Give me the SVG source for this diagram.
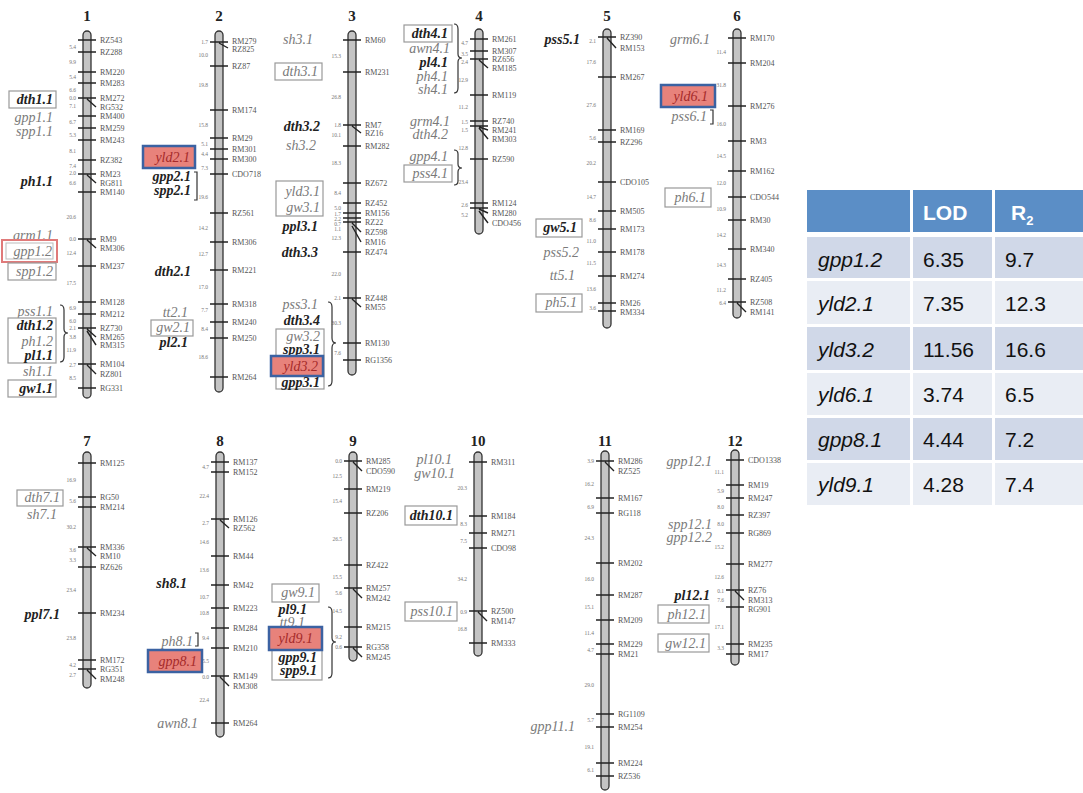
<svg xmlns="http://www.w3.org/2000/svg" width="1083" height="793" viewBox="0 0 1083 793">
<style>
.chr{fill:#c4c4c4;stroke:#333;stroke-width:1.3}
.tk{fill:none;stroke:#222;stroke-width:1.4}
.mk{font-family:"Liberation Serif",serif;font-size:8px;fill:#555}
.ds{font-family:"Liberation Serif",serif;font-size:5.5px;fill:#777;text-anchor:end}
.cn{font-family:"Liberation Serif",serif;font-size:15px;font-weight:bold;fill:#222;text-anchor:middle}
.q{font-family:"Liberation Serif",serif;font-size:14px;font-style:italic;fill:#7a7a7a;text-anchor:end}
.qb{font-family:"Liberation Serif",serif;font-size:14px;font-style:italic;font-weight:bold;fill:#222;text-anchor:end}
.rtx{font-family:"Liberation Serif",serif;font-size:14px;font-style:italic;fill:#a52a2a;text-anchor:end}
.bx{fill:#fff;stroke:#999;stroke-width:1.2}
.rb{fill:#e8827b;stroke:#3b62a2;stroke-width:2.5}
.br{fill:none;stroke:#333;stroke-width:1.2}
.th{font-family:"Liberation Sans",sans-serif;font-size:21px;font-weight:bold;fill:#fff}
.td{font-family:"Liberation Sans",sans-serif;font-size:21px;fill:#111}
.tdi{font-family:"Liberation Sans",sans-serif;font-size:21px;font-style:italic;fill:#111}
</style>
<rect width="1083" height="793" fill="#fff"/>

<!-- Chromosome 1 -->
<g id="chr1">
<text class="cn" x="87" y="21">1</text>
<rect class="chr" x="83" y="31" width="8" height="367" rx="4"/>
<path class="tk" d="M78 40H96M78 52H96M78 72H96M78 83H96M78 98H96M87 99L96 107M78 116H96M78 128H96M78 140H96M78 160H96M78 174H96M87 175L96 183M78 192H96M78 239H96M87 240L96 248M78 266H96M78 302H96M78 314H96M78 328H96M87 329L96 337M87 331L96 345M78 364H96M87 365L96 374M78 388H96"/>
<g class="mk">
<text x="100" y="43">RZ543</text><text x="100" y="55">RZ288</text><text x="100" y="75">RM220</text><text x="100" y="86">RM283</text><text x="100" y="101">RM272</text><text x="100" y="110">RG532</text><text x="100" y="119">RM400</text><text x="100" y="131">RM259</text><text x="100" y="143">RM243</text><text x="100" y="163">RZ382</text><text x="100" y="177">RM23</text><text x="100" y="186">RG811</text><text x="100" y="195">RM140</text><text x="100" y="242">RM9</text><text x="100" y="251">RM306</text><text x="100" y="269">RM237</text><text x="100" y="305">RM128</text><text x="100" y="317">RM212</text><text x="100" y="331">RZ730</text><text x="100" y="340">RM265</text><text x="100" y="348">RM315</text><text x="100" y="367">RM104</text><text x="100" y="377">RZ801</text><text x="100" y="391">RG331</text>
</g>
<g class="ds">
<text x="76" y="49">5.4</text><text x="76" y="64">9.9</text><text x="76" y="79">5.4</text><text x="76" y="92">6.6</text><text x="76" y="100">0.0</text><text x="76" y="108">7.1</text><text x="76" y="124">6.7</text><text x="76" y="137">5.3</text><text x="76" y="153">8.1</text><text x="76" y="168">7.4</text><text x="76" y="175">2.0</text><text x="76" y="185">6.6</text><text x="76" y="219">20.6</text><text x="76" y="241">0.0</text><text x="76" y="255">12.4</text><text x="76" y="285">17.5</text><text x="76" y="310">6.9</text><text x="76" y="323">6.0</text><text x="76" y="330">2.1</text><text x="76" y="339">3.8</text><text x="76" y="352">11.9</text><text x="76" y="367">2.7</text><text x="76" y="380">8.5</text>
</g>
</g>
<g id="qtl1">
<rect class="bx" x="9" y="91" width="47" height="17"/><text class="qb" x="53" y="104">dth1.1</text>
<text class="q" x="53" y="122">gpp1.1</text>
<text class="q" x="53" y="136">spp1.1</text>
<text class="qb" x="53" y="186">ph1.1</text>
<text class="q" x="53" y="240">grm1.1</text>
<rect x="2" y="240" width="55" height="22" fill="#fff" stroke="#e07a7a" stroke-width="2"/>
<rect x="6" y="243" width="47" height="16" fill="none" stroke="#bbb" stroke-width="1"/>
<text class="q" x="52" y="256" fill="#aaa">gpp1.2</text>
<rect class="bx" x="8" y="263" width="48" height="17"/><text class="q" x="53" y="276">spp1.2</text>
<text class="q" x="53" y="316">pss1.1</text>
<rect class="bx" x="8" y="318" width="48" height="45"/>
<text class="qb" x="53" y="330">dth1.2</text>
<text class="q" x="53" y="346">ph1.2</text>
<text class="qb" x="53" y="360">pl1.1</text>
<text class="q" x="53" y="376">sh1.1</text>
<rect class="bx" x="8" y="380" width="48" height="17"/><text class="qb" x="53" y="393">gw1.1</text>
</g>

<!-- Chromosome 2 -->
<g id="chr2">
<text class="cn" x="219" y="21">2</text>
<rect class="chr" x="215" y="31" width="8" height="361" rx="4"/>
<path class="tk" d="M210 42H228M219 43L228 48M210 66H228M210 110H228M210 138H228M210 149H228M210 159H228M210 174H228M210 213H228M210 242H228M210 270H228M210 304H228M210 322H228M210 338H228M210 377H228"/>
<g class="mk">
<text x="232" y="44">RM279</text><text x="232" y="52">RZ825</text><text x="232" y="69">RZ87</text><text x="232" y="113">RM174</text><text x="232" y="141">RM29</text><text x="232" y="152">RM301</text><text x="232" y="162">RM300</text><text x="232" y="177">CDO718</text><text x="232" y="216">RZ561</text><text x="232" y="245">RM306</text><text x="232" y="273">RM221</text><text x="232" y="307">RM318</text><text x="232" y="325">RM240</text><text x="232" y="341">RM250</text><text x="232" y="380">RM264</text>
</g>
<g class="ds">
<text x="208" y="44">1.7</text><text x="208" y="57">10.0</text><text x="208" y="87">19.8</text><text x="208" y="127">15.8</text><text x="208" y="146">5.1</text><text x="208" y="156">4.4</text><text x="208" y="170">7.3</text><text x="208" y="199">19.6</text><text x="208" y="230">14.2</text><text x="208" y="256">12.7</text><text x="208" y="289">17.0</text><text x="208" y="312">7.7</text><text x="208" y="331">8.4</text><text x="208" y="359">18.6</text>
</g>
</g>
<g id="qtl2">
<text class="qb" x="191" y="181">gpp2.1</text>
<text class="qb" x="191" y="195">spp2.1</text>
<rect class="rb" x="143" y="146" width="52" height="22"/><text class="rtx" x="190" y="162">yld2.1</text>
<text class="qb" x="191" y="276">dth2.1</text>
<text class="q" x="188" y="317">tt2.1</text>
<rect class="bx" x="151" y="320" width="42" height="16"/><text class="q" x="190" y="332">gw2.1</text>
<text class="qb" x="188" y="347">pl2.1</text>
</g>

<!-- Chromosome 3 -->
<g id="chr3">
<text class="cn" x="352" y="21">3</text>
<rect class="chr" x="348" y="31" width="8" height="344" rx="4"/>
<path class="tk" d="M343 40H361M343 72H361M343 125H361M352 126L361 133M343 146H361M343 183H361M343 203H361M343 213H361M343 218H361M343 222H361M352 223L361 232M352 226L361 242M343 252H361M343 298H361M352 299L361 307M343 343H361M343 360H361"/>
<g class="mk">
<text x="365" y="43">RM60</text><text x="365" y="75">RM231</text><text x="365" y="128">RM7</text><text x="365" y="136">RZ16</text><text x="365" y="149">RM282</text><text x="365" y="186">RZ672</text><text x="365" y="206">RZ452</text><text x="365" y="216">RM156</text><text x="365" y="225">RZ22</text><text x="365" y="235">RZ598</text><text x="365" y="245">RM16</text><text x="365" y="255">RZ474</text><text x="365" y="301">RZ448</text><text x="365" y="310">RM55</text><text x="365" y="346">RM130</text><text x="365" y="363">RG1356</text>
</g>
<g class="ds">
<text x="341" y="58">15.3</text><text x="341" y="99">26.8</text><text x="341" y="127">1.8</text><text x="341" y="137">10.1</text><text x="341" y="165">18.3</text><text x="341" y="195">8.4</text><text x="341" y="210">5.0</text><text x="341" y="216">1.7</text><text x="341" y="221">2.2</text><text x="341" y="226">0.7</text><text x="341" y="231">1.1</text><text x="341" y="240">12.3</text><text x="341" y="276">22.0</text><text x="341" y="300">2.1</text><text x="341" y="325">30.3</text><text x="341" y="355">7.6</text>
</g>
</g>
<g id="qtl3">
<text class="q" x="313" y="44">sh3.1</text>
<rect class="bx" x="275" y="63" width="47" height="17"/><text class="q" x="318" y="76">dth3.1</text>
<text class="qb" x="320" y="131">dth3.2</text>
<text class="q" x="316" y="150">sh3.2</text>
<rect class="bx" x="276" y="181" width="47" height="35"/>
<text class="q" x="320" y="196">yld3.1</text>
<text class="q" x="320" y="212">gw3.1</text>
<text class="qb" x="318" y="231">ppl3.1</text>
<text class="qb" x="318" y="257">dth3.3</text>
<text class="q" x="318" y="309">pss3.1</text>
<text class="qb" x="320" y="325">dth3.4</text>
<rect class="bx" x="276" y="329" width="48" height="60"/>
<text class="q" x="320" y="341">gw3.2</text>
<text class="qb" x="320" y="354">spp3.1</text>
<rect class="rb" x="271" y="356" width="52" height="20"/><text class="rtx" x="318" y="371">yld3.2</text>
<text class="qb" x="320" y="387">gpp3.1</text>
</g>

<!-- Chromosome 4 -->
<g id="chr4">
<text class="cn" x="479" y="21">4</text>
<rect class="chr" x="475" y="29" width="8" height="205" rx="4"/>
<path class="tk" d="M470 39H488M470 51H488M470 59H488M479 60L488 68M470 95H488M470 121H488M470 126H488M479 127L488 130M479 128L488 139M470 159H488M470 203H488M470 208H488M479 209L488 213M479 211L488 223"/>
<g class="mk">
<text x="492" y="42">RM261</text><text x="492" y="54">RM307</text><text x="492" y="62">RZ656</text><text x="492" y="71">RM185</text><text x="492" y="98">RM119</text><text x="492" y="124">RZ740</text><text x="492" y="133">RM241</text><text x="492" y="142">RM303</text><text x="492" y="162">RZ590</text><text x="492" y="206">RM124</text><text x="492" y="216">RM280</text><text x="492" y="226">CDO456</text>
</g>
<g class="ds">
<text x="468" y="45">4.7</text><text x="468" y="56">3.5</text><text x="468" y="64">2.4</text><text x="468" y="82">12.9</text><text x="468" y="109">11.2</text><text x="468" y="124">1.5</text><text x="468" y="132">1.5</text><text x="468" y="150">12.8</text><text x="468" y="184">23.4</text><text x="468" y="207">2.6</text><text x="468" y="217">5.2</text>
</g>
</g>
<g id="qtl4">
<rect class="bx" x="404" y="25" width="48" height="17"/><text class="qb" x="448" y="38">dth4.1</text>
<text class="q" x="450" y="53">awn4.1</text>
<text class="qb" x="448" y="67">pl4.1</text>
<text class="q" x="448" y="81">ph4.1</text>
<text class="q" x="448" y="94">sh4.1</text>
<text class="q" x="450" y="126">grm4.1</text>
<text class="q" x="448" y="139">dth4.2</text>
<text class="q" x="448" y="161">gpp4.1</text>
<rect class="bx" x="404" y="165" width="48" height="17"/><text class="q" x="448" y="178">pss4.1</text>
</g>

<!-- Chromosome 5 -->
<g id="chr5">
<text class="cn" x="607" y="21">5</text>
<rect class="chr" x="603" y="29" width="8" height="299" rx="4"/>
<path class="tk" d="M598 37H616M607 38L616 48M598 77H616M598 130H616M598 142H616M598 182H616M598 211H616M598 229H616M598 252H616M598 276H616M598 303H616M598 311H616"/>
<g class="mk">
<text x="620" y="40">RZ390</text><text x="620" y="51">RM153</text><text x="620" y="80">RM267</text><text x="620" y="133">RM169</text><text x="620" y="145">RZ296</text><text x="620" y="185">CDO105</text><text x="620" y="214">RM505</text><text x="620" y="232">RM173</text><text x="620" y="255">RM178</text><text x="620" y="279">RM274</text><text x="620" y="306">RM26</text><text x="620" y="315">RM334</text>
</g>
<g class="ds">
<text x="596" y="43">2.1</text><text x="596" y="64">17.6</text><text x="596" y="107">27.6</text><text x="596" y="140">5.6</text><text x="596" y="165">20.2</text><text x="596" y="199">14.7</text><text x="596" y="222">8.6</text><text x="596" y="243">11.0</text><text x="596" y="265">11.5</text><text x="596" y="291">13.6</text><text x="596" y="310">3.6</text>
</g>
</g>
<g id="qtl5">
<text class="qb" x="580" y="44">pss5.1</text>
<rect class="bx" x="536" y="219" width="46" height="18"/><text class="qb" x="577" y="232">gw5.1</text>
<text class="q" x="579" y="257">pss5.2</text>
<text class="q" x="575" y="280">tt5.1</text>
<rect class="bx" x="536" y="294" width="46" height="18"/><text class="q" x="577" y="307">ph5.1</text>
</g>

<!-- Chromosome 6 -->
<g id="chr6">
<text class="cn" x="737" y="21">6</text>
<rect class="chr" x="733" y="29" width="8" height="289" rx="4"/>
<path class="tk" d="M728 38H746M728 63H746M728 106H746M728 141H746M728 171H746M728 197H746M728 220H746M728 249H746M728 279H746M728 302H746M737 303L746 312"/>
<g class="mk">
<text x="750" y="41">RM170</text><text x="750" y="66">RM204</text><text x="750" y="109">RM276</text><text x="750" y="144">RM3</text><text x="750" y="174">RM162</text><text x="750" y="200">CDO544</text><text x="750" y="223">RM30</text><text x="750" y="252">RM340</text><text x="750" y="282">RZ405</text><text x="750" y="305">RZ508</text><text x="750" y="315">RM141</text>
</g>
<g class="ds">
<text x="726" y="54">11.4</text><text x="726" y="87">31.8</text><text x="726" y="126">16.0</text><text x="726" y="158">14.5</text><text x="726" y="185">12.0</text><text x="726" y="211">10.9</text><text x="726" y="237">14.2</text><text x="726" y="267">14.3</text><text x="726" y="292">11.2</text><text x="726" y="305">6.4</text>
</g>
</g>
<g id="qtl6">
<text class="q" x="710" y="44">grm6.1</text>
<rect class="rb" x="661" y="85" width="54" height="22"/><text class="rtx" x="708" y="101">yld6.1</text>
<text class="q" x="707" y="121">pss6.1</text>
<rect class="bx" x="665" y="188" width="46" height="19"/><text class="q" x="706" y="202">ph6.1</text>
</g>

<!-- Chromosome 7 -->
<g id="chr7">
<text class="cn" x="87" y="446">7</text>
<rect class="chr" x="83" y="452" width="8" height="236" rx="4"/>
<path class="tk" d="M78 463H96M78 497H96M78 507H96M78 547H96M87 548L96 556M78 567H96M78 613H96M78 660H96M78 669H96M87 670L96 679"/>
<g class="mk">
<text x="100" y="466">RM125</text><text x="100" y="500">RG50</text><text x="100" y="510">RM214</text><text x="100" y="550">RM336</text><text x="100" y="559">RM10</text><text x="100" y="570">RZ626</text><text x="100" y="616">RM234</text><text x="100" y="663">RM172</text><text x="100" y="672">RG351</text><text x="100" y="682">RM248</text>
</g>
<g class="ds">
<text x="76" y="482">16.9</text><text x="76" y="503">5.6</text><text x="76" y="529">30.2</text><text x="76" y="552">3.6</text><text x="76" y="562">3.3</text><text x="76" y="592">23.4</text><text x="76" y="640">23.8</text><text x="76" y="667">4.2</text><text x="76" y="677">2.7</text>
</g>
</g>
<g id="qtl7">
<rect class="bx" x="17" y="490" width="46" height="16"/><text class="q" x="60" y="502">dth7.1</text>
<text class="q" x="57" y="519">sh7.1</text>
<text class="qb" x="60" y="619">ppl7.1</text>
</g>

<!-- Chromosome 8 -->
<g id="chr8">
<text class="cn" x="220" y="446">8</text>
<rect class="chr" x="216" y="452" width="8" height="285" rx="4"/>
<path class="tk" d="M211 462H229M211 472H229M211 519H229M220 520L229 528M211 556H229M211 585H229M211 608H229M211 628H229M211 648H229M211 676H229M220 677L229 686M211 723H229"/>
<g class="mk">
<text x="233" y="465">RM137</text><text x="233" y="475">RM152</text><text x="233" y="522">RM126</text><text x="233" y="531">RZ562</text><text x="233" y="559">RM44</text><text x="233" y="588">RM42</text><text x="233" y="611">RM223</text><text x="233" y="631">RM284</text><text x="233" y="651">RM210</text><text x="233" y="679">RM149</text><text x="233" y="689">RM308</text><text x="233" y="726">RM264</text>
</g>
<g class="ds">
<text x="209" y="469">4.7</text><text x="209" y="498">22.4</text><text x="209" y="525">2.7</text><text x="209" y="544">14.6</text><text x="209" y="572">13.6</text><text x="209" y="599">10.7</text><text x="209" y="615">10.8</text><text x="209" y="640">9.4</text><text x="209" y="663">5.5</text><text x="209" y="679">0.0</text><text x="209" y="702">22.4</text>
</g>
</g>
<g id="qtl8">
<text class="qb" x="187" y="588">sh8.1</text>
<text class="q" x="193" y="646">ph8.1</text>
<rect class="rb" x="148" y="650" width="54" height="22"/><text class="rtx" x="197" y="666">gpp8.1</text>
<text class="q" x="198" y="728">awn8.1</text>
</g>

<!-- Chromosome 9 -->
<g id="chr9">
<text class="cn" x="353" y="446">9</text>
<rect class="chr" x="349" y="452" width="8" height="209" rx="4"/>
<path class="tk" d="M344 461H362M353 462L362 471M344 489H362M344 513H362M344 565H362M344 588H362M353 589L362 598M344 627H362M344 647H362M353 648L362 657"/>
<g class="mk">
<text x="366" y="464">RM285</text><text x="366" y="474">CDO590</text><text x="366" y="492">RM219</text><text x="366" y="516">RZ206</text><text x="366" y="568">RZ422</text><text x="366" y="591">RM257</text><text x="366" y="601">RM242</text><text x="366" y="630">RM215</text><text x="366" y="650">RG358</text><text x="366" y="660">RM245</text>
</g>
<g class="ds">
<text x="342" y="463">0.0</text><text x="342" y="478">12.5</text><text x="342" y="503">15.4</text><text x="342" y="541">26.5</text><text x="342" y="579">15.5</text><text x="342" y="595">5.6</text><text x="342" y="613">14.5</text><text x="342" y="639">9.2</text><text x="342" y="649">0.6</text>
</g>
</g>
<g id="qtl9">
<rect class="bx" x="272" y="584" width="47" height="18"/><text class="q" x="315" y="597">gw9.1</text>
<text class="qb" x="307" y="614">pl9.1</text>
<text class="q" x="305" y="627">tt9.1</text>
<rect class="bx" x="272" y="650" width="50" height="30"/>
<text class="qb" x="317" y="662">gpp9.1</text>
<text class="qb" x="317" y="675">spp9.1</text>
<rect class="rb" x="269" y="627" width="53" height="23"/><text class="rtx" x="313" y="643">yld9.1</text>
</g>

<!-- Chromosome 10 -->
<g id="chr10">
<text class="cn" x="478" y="446">10</text>
<rect class="chr" x="474" y="452" width="8" height="204" rx="4"/>
<path class="tk" d="M469 462H487M469 516H487M469 533H487M469 548H487M469 611H487M478 612L487 621M469 643H487"/>
<g class="mk">
<text x="491" y="465">RM311</text><text x="491" y="519">RM184</text><text x="491" y="536">RM271</text><text x="491" y="551">CDO98</text><text x="491" y="614">RZ500</text><text x="491" y="624">RM147</text><text x="491" y="646">RM333</text>
</g>
<g class="ds">
<text x="467" y="490">20.3</text><text x="467" y="526">8.3</text><text x="467" y="543">7.5</text><text x="467" y="581">34.2</text><text x="467" y="614">0.9</text><text x="467" y="631">16.8</text>
</g>
</g>
<g id="qtl10">
<text class="q" x="452" y="464">pl10.1</text>
<text class="q" x="455" y="478">gw10.1</text>
<rect class="bx" x="405" y="506" width="52" height="19"/><text class="qb" x="453" y="520">dth10.1</text>
<rect class="bx" x="405" y="602" width="52" height="19"/><text class="q" x="453" y="616">pss10.1</text>
</g>

<!-- Chromosome 11 -->
<g id="chr11">
<text class="cn" x="605" y="446">11</text>
<rect class="chr" x="601" y="451" width="8" height="339" rx="4"/>
<path class="tk" d="M596 461H614M605 462L614 471M596 498H614M596 513H614M596 563H614M596 595H614M596 620H614M596 644H614M596 654H614M596 714H614M596 727H614M596 763H614M596 776H614"/>
<g class="mk">
<text x="618" y="464">RM286</text><text x="618" y="474">RZ525</text><text x="618" y="501">RM167</text><text x="618" y="516">RG118</text><text x="618" y="566">RM202</text><text x="618" y="598">RM287</text><text x="618" y="623">RM209</text><text x="618" y="647">RM229</text><text x="618" y="657">RM21</text><text x="618" y="717">RG1109</text><text x="618" y="730">RM254</text><text x="618" y="766">RM224</text><text x="618" y="779">RZ536</text>
</g>
<g class="ds">
<text x="594" y="463">3.9</text><text x="594" y="486">16.2</text><text x="594" y="509">6.9</text><text x="594" y="540">24.3</text><text x="594" y="581">16.0</text><text x="594" y="609">15.1</text><text x="594" y="635">11.4</text><text x="594" y="652">4.7</text><text x="594" y="687">29.0</text><text x="594" y="722">5.7</text><text x="594" y="749">19.1</text><text x="594" y="772">6.1</text>
</g>
</g>
<g id="qtl11">
<text class="q" x="575" y="731">gpp11.1</text>
</g>

<!-- Chromosome 12 -->
<g id="chr12">
<text class="cn" x="735" y="446">12</text>
<rect class="chr" x="731" y="450" width="8" height="215" rx="4"/>
<path class="tk" d="M726 460H744M726 485H744M726 498H744M726 515H744M726 533H744M726 564H744M726 590H744M735 591L744 600M726 607H744M726 644H744M726 654H744"/>
<g class="mk">
<text x="748" y="463">CDO1338</text><text x="748" y="488">RM19</text><text x="748" y="501">RM247</text><text x="748" y="518">RZ397</text><text x="748" y="536">RG869</text><text x="748" y="567">RM277</text><text x="748" y="593">RZ76</text><text x="748" y="603">RM313</text><text x="748" y="612">RG901</text><text x="748" y="647">RM235</text><text x="748" y="657">RM17</text>
</g>
<g class="ds">
<text x="724" y="474">11.1</text><text x="724" y="493">5.9</text><text x="724" y="509">8.0</text><text x="724" y="526">8.0</text><text x="724" y="549">15.2</text><text x="724" y="579">12.6</text><text x="724" y="593">0.1</text><text x="724" y="602">7.6</text><text x="724" y="629">17.1</text><text x="724" y="650">3.3</text>
</g>
</g>
<g id="qtl12">
<text class="q" x="712" y="466">gpp12.1</text>
<text class="q" x="712" y="529">spp12.1</text>
<text class="q" x="712" y="542">gpp12.2</text>
<text class="qb" x="710" y="600">pl12.1</text>
<rect class="bx" x="658" y="605" width="51" height="18"/><text class="q" x="706" y="619">ph12.1</text>
<rect class="bx" x="658" y="634" width="51" height="18"/><text class="q" x="706" y="648">gw12.1</text>
</g>

<!-- Connectors: braces grouping QTLs -->
<g id="connectors" class="br">
<path d="M60 305Q64 305 64 310V329Q64 333 68 333Q64 333 64 337V357Q64 362 60 362"/>
<path d="M194 172H197V200H194"/>
<path d="M328 302Q332 302 332 307V338Q332 343 336 343Q332 343 332 348V381Q332 386 328 386"/>
<path d="M454 24Q458 24 458 29V54Q458 58 462 58Q458 58 458 62V88Q458 93 454 93"/>
<path d="M454 150Q458 150 458 154V164Q458 168 462 168Q458 168 458 172V181Q458 185 454 185"/>
<path d="M710 110H713V124H710"/>
<path d="M195 633H198V646H195"/>
<path d="M328 607Q332 607 332 612V638Q332 642 336 642Q332 642 332 646V673Q332 678 328 678"/>
</g>

<!-- Table -->
<g id="table">
<rect x="807" y="190" width="103" height="42" fill="#5b8ec6"/>
<rect x="913" y="190" width="79" height="42" fill="#5b8ec6"/>
<rect x="995" y="190" width="88" height="42" fill="#5b8ec6"/>
<text class="th" x="923" y="220">LOD</text>
<text class="th" x="1011" y="220">R<tspan font-size="13" dy="5">2</tspan></text>
<g fill="#d0d8e8">
<rect x="807" y="237" width="103" height="41"/><rect x="913" y="237" width="79" height="41"/><rect x="995" y="237" width="88" height="41"/>
<rect x="807" y="327" width="103" height="43"/><rect x="913" y="327" width="79" height="43"/><rect x="995" y="327" width="88" height="43"/>
<rect x="807" y="418" width="103" height="42"/><rect x="913" y="418" width="79" height="42"/><rect x="995" y="418" width="88" height="42"/>
</g>
<g fill="#e9edf4">
<rect x="807" y="281" width="103" height="43"/><rect x="913" y="281" width="79" height="43"/><rect x="995" y="281" width="88" height="43"/>
<rect x="807" y="373" width="103" height="42"/><rect x="913" y="373" width="79" height="42"/><rect x="995" y="373" width="88" height="42"/>
<rect x="807" y="463" width="103" height="42"/><rect x="913" y="463" width="79" height="42"/><rect x="995" y="463" width="88" height="42"/>
</g>
<text class="tdi" x="818" y="267">gpp1.2</text><text class="td" x="923" y="267">6.35</text><text class="td" x="1005" y="267">9.7</text>
<text class="tdi" x="818" y="311">yld2.1</text><text class="td" x="923" y="311">7.35</text><text class="td" x="1005" y="311">12.3</text>
<text class="tdi" x="818" y="357">yld3.2</text><text class="td" x="923" y="357">11.56</text><text class="td" x="1005" y="357">16.6</text>
<text class="tdi" x="818" y="402">yld6.1</text><text class="td" x="923" y="402">3.74</text><text class="td" x="1005" y="402">6.5</text>
<text class="tdi" x="818" y="447">gpp8.1</text><text class="td" x="923" y="447">4.44</text><text class="td" x="1005" y="447">7.2</text>
<text class="tdi" x="818" y="492">yld9.1</text><text class="td" x="923" y="492">4.28</text><text class="td" x="1005" y="492">7.4</text>
</g>
</svg>
